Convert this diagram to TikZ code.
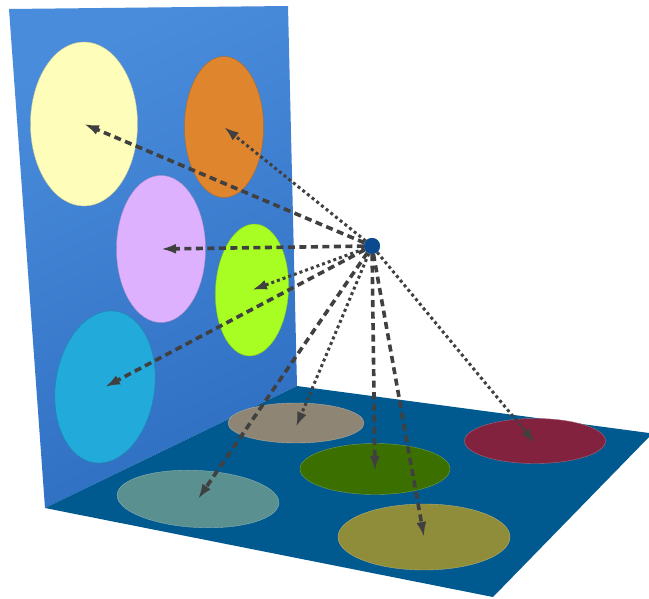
\documentclass[tikz,border=0pt]{standalone}
\usetikzlibrary{arrows.meta,shapes.geometric}
\definecolor{wallhi}{HTML}{4A8CDC}
\definecolor{walllo}{HTML}{2F6FC2}
\definecolor{floorblue}{HTML}{005A90}
\definecolor{raygray}{HTML}{404040}
\definecolor{srcblue}{HTML}{0B4A8E}
\definecolor{cyellow}{HTML}{FEFEBA}
\definecolor{corange}{HTML}{DE852E}
\definecolor{cpink}{HTML}{DDB1FD}
\definecolor{clime}{HTML}{A8FD22}
\definecolor{ccyan}{HTML}{22AADA}
\definecolor{ctaupe}{HTML}{8E8574}
\definecolor{cteal}{HTML}{5A9090}
\definecolor{cgreen}{HTML}{3B7000}
\definecolor{ccrimson}{HTML}{82223F}
\definecolor{colive}{HTML}{8F8C3A}

\begin{document}
\begin{tikzpicture}[
    x=1pt, y=-1pt,
    >={Latex[length=15pt,width=10pt]},
    spot/.style  = {ellipse, inner sep=0pt, fill=#1, draw=#1!80!black,
                    line width=0.4pt},
    fspot/.style = {ellipse, inner sep=0pt, fill=#1, draw=#1!70!white,
                    line width=0.4pt},
    ray/.style   = {draw=raygray, line width=3.6pt, ->,
                    dash pattern=on 7pt off 4.5pt},
    dotray/.style= {draw=raygray, line width=3pt, ->,
                    dash pattern=on 3pt off 3pt},
  ]
  \useasboundingbox (0,0) rectangle (649,599);

  % ===================================================================
  % Wall and floor
  % ===================================================================
  \shade[top color=wallhi, bottom color=walllo, shading angle=25]
    (9,9) -- (288,6) -- (297,386) -- (45,508) -- cycle;
  \fill[floorblue] (45,508) -- (297,386) -- (649,433) -- (649,437)
    -- (493,597) -- cycle;

  % ===================================================================
  % Spots on the wall
  % ===================================================================
  \node[spot=cyellow, minimum width=107pt, minimum height=164pt] (yel)
    at (84,124) {};
  \node[spot=corange, minimum width=79pt, minimum height=141pt] (ora)
    at (224,127) {};
  \node[spot=cpink, minimum width=89pt, minimum height=147pt] (pnk)
    at (161,249) {};
  \node[spot=clime, minimum width=73pt, minimum height=132pt, rotate=-3] (lim)
    at (252,290) {};
  \node[spot=ccyan, minimum width=99pt, minimum height=153pt, rotate=-8] (cya)
    at (105,387) {};

  % ===================================================================
  % Spots on the floor
  % ===================================================================
  \node[fspot=ctaupe, minimum width=136pt, minimum height=40pt] (tau)
    at (296,423) {};
  \node[fspot=cteal, minimum width=162pt, minimum height=57pt, rotate=-3] (tea)
    at (198,499) {};
  \node[fspot=cgreen, minimum width=150pt, minimum height=51pt] (grn)
    at (375,469) {};
  \node[fspot=ccrimson, minimum width=141pt, minimum height=45pt] (crm)
    at (535,441) {};
  \node[fspot=colive, minimum width=172pt, minimum height=66pt] (olv)
    at (424,537) {};

  % ===================================================================
  % Source point and rays
  % ===================================================================
  \node[circle, fill=srcblue, minimum size=16pt, inner sep=0pt] (src)
    at (372,246) {};

  \draw[ray]    (src) -- (yel.center);
  \draw[dotray] (src) -- (ora.center);
  \draw[ray]    (src) -- (pnk.center);
  \draw[dotray] (src) -- (lim.center);
  \draw[ray]    (src) -- (cya.center);
  \draw[dotray] (src) -- ([yshift=-4pt]tau.center);
  \draw[ray]    (src) -- (tea.center);
  \draw[ray]    (src) -- ([yshift=-2pt]grn.center);
  \draw[ray]    (src) -- (olv.center);
  \draw[dotray] (src) -- ([yshift=-2pt]crm.center);

  \node[circle, fill=srcblue, minimum size=16pt, inner sep=0pt] at (src) {};
\end{tikzpicture}
\end{document}
